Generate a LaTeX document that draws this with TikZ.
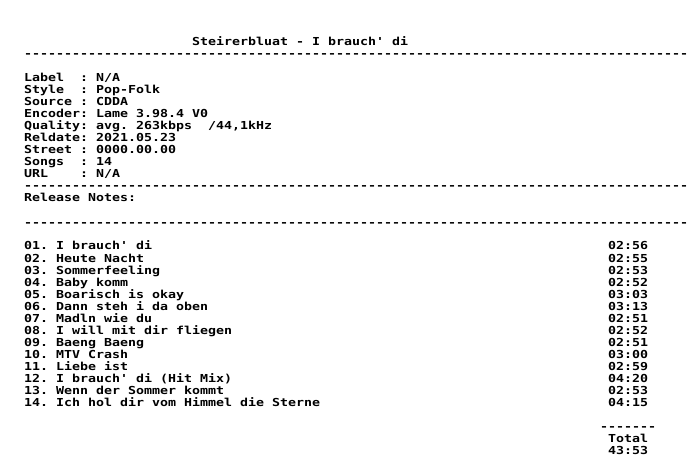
\documentclass[tikz,border=0pt]{standalone}
\usepackage{fontspec}
\setmonofont{DejaVu Sans Mono}[FakeStretch=1.208]
\newcommand\dashrow[1]{\count255=0 \loop\ifnum\count255<#1 -\advance\count255 by 1 \repeat}
\tikzset{nfo/.style={anchor=base west, inner sep=0pt, font=\ttfamily\bfseries\fontsize{11}{12}\selectfont\frenchspacing}}
\begin{document}
\begin{tikzpicture}[x=8pt, y=-12pt]

		\useasboundingbox (-3,-3.8333) rectangle (84,35.1667);

		\node[nfo] (title) at (21,0) {Steirerbluat - I brauch' di};
		\node[nfo] (rule1) at (0,1) {\dashrow{83}};

		\foreach \key/\val [count=\r from 3] in {Label/{N/A}, Style/Pop-Folk, Source/CDDA, Encoder/Lame 3.98.4 V0, Quality/{avg. 263kbps~~/44,1kHz}, Reldate/2021.05.23, Street/0000.00.00, Songs/14, URL/{N/A}}
		{
		\node[nfo] (key\r) at (0,\r) {\key};
		\node[nfo] (val\r) at (7,\r) {: \val};
		}

		\node[nfo] (rule2) at (0,12) {\dashrow{83}};
		\node[nfo] (notes) at (0,13) {Release Notes:};
		\node[nfo] (rule3) at (0,15) {\dashrow{83}};

		\foreach \num/\song/\len [count=\r from 17] in {01/I brauch' di/02:56, 02/Heute Nacht/02:55, 03/Sommerfeeling/02:53, 04/Baby komm/02:52, 05/Boarisch is okay/03:03, 06/Dann steh i da oben/03:13, 07/Madln wie du/02:51, 08/I will mit dir fliegen/02:52, 09/Baeng Baeng/02:51, 10/MTV Crash/03:00, 11/Liebe ist/02:59, 12/I brauch' di (Hit Mix)/04:20, 13/Wenn der Sommer kommt/02:53, 14/Ich hol dir vom Himmel die Sterne/04:15}
		{
		\node[nfo] (song\num) at (0,\r) {\num. \song};
		\node[nfo] (len\num) at (73,\r) {\len};
		}

		\node[nfo] (rule4) at (72,32) {\dashrow{7}};
		\node[nfo] (total) at (73,33) {Total};
		\node[nfo] (sum) at (73,34) {43:53};

\end{tikzpicture}
\end{document}
